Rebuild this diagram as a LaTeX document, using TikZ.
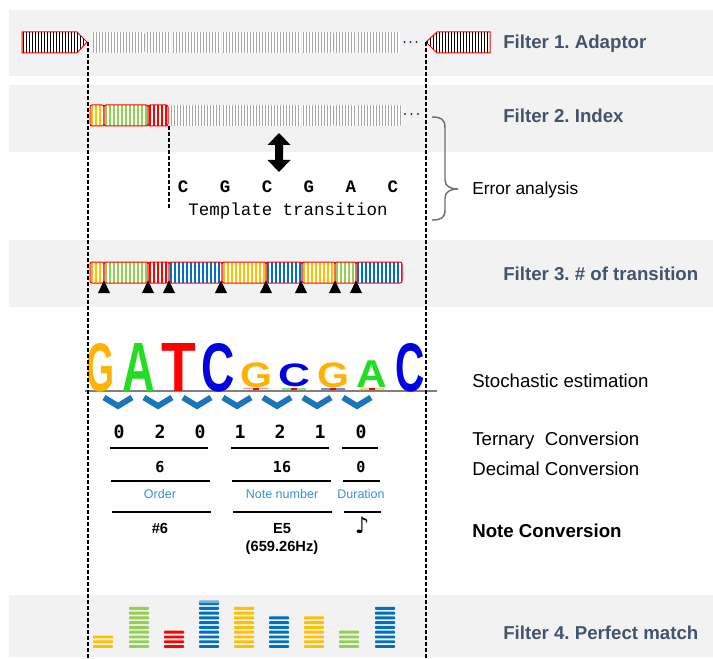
\documentclass[tikz,border=0pt]{standalone}
\usepackage{fontspec}
\setmainfont{Liberation Sans}
\newfontfamily\cour{Liberation Mono}
\newfontfamily\dmono{DejaVu Sans Mono}
\newfontfamily\djv{DejaVu Sans}
\usepackage{graphicx}
\frenchspacing
\definecolor{bandgray}{HTML}{F2F2F2}
\definecolor{flab}{HTML}{44546A}
\definecolor{cY}{HTML}{FFC000}
\definecolor{cG}{HTML}{92D050}
\definecolor{cR}{HTML}{FF0000}
\definecolor{cB}{HTML}{0070C0}
\definecolor{gstr}{HTML}{A6A6A6}
\definecolor{dotc}{HTML}{1F3864}
\definecolor{lgO}{HTML}{FFB300}
\definecolor{lgG}{HTML}{22DD22}
\definecolor{lgR}{HTML}{FF0000}
\definecolor{lgB}{HTML}{0000E0}
\definecolor{chev}{HTML}{1B75BB}
\definecolor{lblue}{HTML}{3A8DDE}
\definecolor{bracec}{HTML}{6F6F6F}
% striped segment: x1,x2,y1,y2,colour,period,stripe width
\newcommand\vstripes[7]{%
  \begin{scope}
    \clip[rounded corners=1.2pt] (#1,#3) rectangle (#2,#4);
    \fill[white] (#1,#3) rectangle (#2,#4);
    \pgfmathtruncatemacro\nst{(#2-#1)/#6}
    \foreach \i in {0,...,\nst}{
      \pgfmathsetmacro\xx{#1+#6*(\i+0.5)}
      \draw[#5, line width=#7] (\xx,#3) -- (\xx,#4);
    }
  \end{scope}}
\newcommand\graystrand[4]{\vstripes{#1}{#2}{#3}{#4}{gstr}{3}{1.45pt}}
\newcommand\segbox[5]{%
  \vstripes{#1}{#2}{#3}{#4}{#5}{4}{1.6pt}
  \draw[red, line width=0.75pt, rounded corners=1.5pt] (#1,#3) rectangle (#2,#4);}
% horizontal-striped bar: x1,x2,n,colour
\newcommand\stripebar[4]{%
  \foreach \i in {1,...,#3}{
    \pgfmathsetmacro\yy{648-1.5-4.77*(\i-1)}
    \fill[#4, rounded corners=0.6pt] (#1,\yy-1.45) rectangle (#2,\yy+1.45);
  }}
\begin{document}
\begin{tikzpicture}[x=0.75pt,y=-0.75pt,
  flabel/.style={anchor=base west, inner sep=0pt, font=\bfseries\fontsize{14}{16}\selectfont, text=flab},
  rlabel/.style={anchor=base west, inner sep=0pt, font=\fontsize{14}{16}\selectfont, text=black},
  logo/.style={anchor=base, inner sep=0pt, font=\bfseries},
  dig/.style={anchor=base, inner sep=0pt, font=\dmono\bfseries\fontsize{13.6}{16}\selectfont},
  dig2/.style={anchor=base, inner sep=0pt, font=\dmono\bfseries\fontsize{11.3}{14}\selectfont},
  cat/.style={anchor=base, inner sep=0pt, font=\fontsize{9.4}{11}\selectfont, text=lblue},
  note/.style={anchor=base, inner sep=0pt, font=\bfseries\fontsize{11}{13.5}\selectfont},
  dline/.style={dash pattern=on 3pt off 1.5pt, line width=0.8pt},
  rule/.style={line width=0.8pt}]
\useasboundingbox (0,0) rectangle (713,659);
% bands
\fill[bandgray] (9,10) rectangle (713,76);
\fill[bandgray] (9,85) rectangle (713,152);
\fill[bandgray] (9,240) rectangle (713,307);
\fill[bandgray] (9,595) rectangle (713,657);

% ---------- Filter 1 ----------
\begin{scope}
  \clip (22,32) -- (77,32) -- (87,42) -- (77,53) -- (22,53) -- cycle;
  \fill[white] (22,32) rectangle (87,53);
  \foreach \i in {0,...,21} \draw[black, line width=1.4pt] ({23.5+3*\i},32) -- ({23.5+3*\i},53);
\end{scope}
\draw[red, line width=0.75pt] (22,32) -- (77,32) -- (87,42) -- (77,53) -- (22,53) -- cycle;
\begin{scope}
  \clip (426,42) -- (437,32) -- (490,32) -- (490,53) -- (437,53) -- cycle;
  \fill[white] (426,32) rectangle (490,53);
  \foreach \i in {0,...,21} \draw[black, line width=1.4pt] ({427.5+3*\i},32) -- ({427.5+3*\i},53);
\end{scope}
\draw[red, line width=0.75pt] (426,42) -- (437,32) -- (490,32) -- (490,53) -- (437,53) -- cycle;
\coordinate (adL) at (88,42);
\coordinate (adR) at (426,42);
\graystrand{92}{145}{32}{53}
\graystrand{146}{171}{32}{53}
\graystrand{172}{221}{32}{53}
\graystrand{222}{301}{32}{53}
\graystrand{302}{334}{32}{53}
\graystrand{335}{356}{32}{53}
\graystrand{357}{400}{32}{53}
\foreach \x in {404.5,410.5,416.5} \fill[dotc] (\x,42) circle (0.9pt);
\node[flabel] (f1) at (503,49) {Filter 1. Adaptor};

% ---------- Filter 2 ----------
\segbox{90}{104}{105}{126}{cY}
\segbox{104}{148}{105}{126}{cG}
\segbox{148}{168}{105}{126}{cR}
\graystrand{170}{221}{105}{126}
\graystrand{222}{301}{105}{126}
\graystrand{302}{334}{105}{126}
\graystrand{335}{356}{105}{126}
\graystrand{357}{402}{105}{126}
\foreach \x in {405,411.5,418} \fill[dotc] (\x,114) circle (0.9pt);
\coordinate (idx) at (169,126);
\coordinate (idxb) at (169,208);
\node[flabel] (f2) at (503,123) {Filter 2. Index};
% double arrow
\fill[black] (279,133) -- (290.5,145) -- (283,145) -- (283,160) -- (290.5,160) -- (279,172)
  -- (267.5,160) -- (275,160) -- (275,145) -- (267.5,145) -- cycle;
\node[anchor=base, inner sep=0pt, font=\cour\bfseries\fontsize{13.1}{15}\selectfont] (seq) at (288,193) {C\ \ \ G\ \ \ C\ \ \ G\ \ \ A\ \ \ C};
\node[anchor=base, inner sep=0pt, font=\cour\fontsize{13.1}{15}\selectfont] (tt) at (288,215) {Template transition};
% brace
\draw[bracec, line width=1.1pt] (432,117) .. controls (441,117) and (445,119) .. (445,128)
  -- (445,180) .. controls (445,186) and (450,189) .. (458,189)
  .. controls (450,189) and (445,192) .. (445,198) -- (445,210)
  .. controls (445,218) and (441,220) .. (432,220);
\node[anchor=base west, inner sep=0pt, font=\fontsize{13}{15}\selectfont] (err) at (472,195) {Error analysis};

% ---------- Filter 3 ----------
\segbox{90}{104}{262}{283}{cY}
\segbox{104}{148}{262}{283}{cG}
\segbox{148}{169}{262}{283}{cR}
\segbox{169}{222}{262}{283}{cB}
\segbox{222}{266}{262}{283}{cY}
\segbox{266}{302}{262}{283}{cB}
\segbox{302}{335}{262}{283}{cY}
\segbox{335}{356}{262}{283}{cG}
\segbox{356}{402}{262}{283}{cB}
\foreach \x in {104,148,169,221,266,301,335,356}
  \fill[black] (\x,280.5) -- (\x+6,293) -- (\x-6,293) -- cycle;
\node[flabel] (f3) at (503,280) {Filter 3. \# of transition};

% ---------- logo ----------
\draw[gray, line width=0.8pt] (85,391) -- (437,391);
\node[logo, text=lgO] (l1) at (100,391) {\resizebox{21pt}{36pt}{G}};
\node[logo, text=lgG] (l2) at (139,391) {\resizebox{24.5pt}{36pt}{A}};
\node[logo, text=lgR] (l3) at (179,391) {\resizebox{26pt}{36pt}{T}};
\node[logo, text=lgB] (l4) at (218,391) {\resizebox{25pt}{36pt}{C}};
\node[logo, text=lgO] (l5) at (256,387) {\resizebox{24pt}{18.5pt}{G}};
\node[logo, text=lgB] (l6) at (294,386) {\resizebox{24pt}{17pt}{C}};
\node[logo, text=lgO] (l7) at (333,387) {\resizebox{24pt}{18.5pt}{G}};
\node[logo, text=lgG] (l8) at (372,387) {\resizebox{23pt}{20pt}{A}};
\node[logo, text=lgB] (l9) at (410,391) {\resizebox{22pt}{36pt}{C}};
\fill[lgR!40] (243,387.6) rectangle (269,389); \fill[lgR] (253,387.6) rectangle (259,390);
\fill[lgG!60] (282,388) rectangle (306,389.6); \fill[lgR] (291,388) rectangle (297,390);
\fill[lgB!50] (321,388) rectangle (345,389.6); \fill[lgR] (330,388) rectangle (336,390);
\fill[lgO!60] (360,388) rectangle (384,389.6); \fill[lgR] (369,387.5) rectangle (375,390);
\foreach \x in {118,158,197,237,277,317,357}
  \draw[chev, line width=4.4pt] (\x-14,397.5) -- (\x,406) -- (\x+14,397.5);
\node[rlabel] (stoc) at (472,387) {Stochastic estimation};

% ---------- conversions ----------
\node[dig] (t1) at (119,438) {0};
\node[dig] (t2) at (160,438) {2};
\node[dig] (t3) at (200,438) {0};
\node[dig] (t4) at (240,438) {1};
\node[dig] (t5) at (280,438) {2};
\node[dig] (t6) at (320,438) {1};
\node[dig] (t7) at (361,438) {0};
\draw[rule] (110,448) -- (208,448);
\draw[rule] (231,448) -- (329,448);
\draw[rule] (342,448) -- (378,448);
\node[dig2] (d1) at (160,472) {6};
\node[dig2] (d2) at (282,472) {16};
\node[dig2] (d3) at (361,472) {0};
\draw[rule] (111,481) -- (210,481);
\draw[rule] (232,481) -- (331,481);
\draw[rule] (343,481) -- (380,481);
\node[cat] (c1) at (160,498) {Order};
\node[cat] (c2) at (282,498) {Note number};
\node[cat] (c3) at (361,498) {Duration};
\draw[rule] (112,512) -- (211,512);
\draw[rule] (233,512) -- (332,512);
\draw[rule] (344,512) -- (381,512);
\node[note] (n1) at (160,533) {\#6};
\node[note] (n2) at (282,533) {E5};
\node[note] (n2b) at (282,551) {(659.26Hz)};
\node[anchor=base, inner sep=0pt, font=\djv\fontsize{17}{19}\selectfont] (n3) at (362,533) {♪};
\node[rlabel] (tern) at (472,445) {Ternary\ \ Conversion};
\node[rlabel] (deci) at (472,475) {Decimal Conversion};
\node[rlabel, font=\bfseries\fontsize{14}{16}\selectfont] (notec) at (472,537) {Note Conversion};

% ---------- Filter 4 ----------
\stripebar{93}{113}{3}{cY}
\stripebar{129}{149}{9}{cG}
\stripebar{164}{184}{4}{cR}
\stripebar{199}{219}{10}{cB}
\fill[cB!55, rounded corners=0.6pt] (199,600.4) rectangle (219,603.2);
\stripebar{234}{254}{9}{cY}
\stripebar{269}{289}{7}{cB}
\stripebar{304}{324}{7}{cY}
\stripebar{339}{359}{4}{cG}
\stripebar{375}{395}{9}{cB}
\node[flabel] (f4) at (503,639) {Filter 4. Perfect match};

% dashed guide lines
\coordinate (botL) at (88,659);
\coordinate (botR) at (426,659);
\draw[dline] (adL) -- (botL);
\draw[dline] (adR) -- (botR);
\draw[dline] (idx) -- (idxb);
\end{tikzpicture}
\end{document}
